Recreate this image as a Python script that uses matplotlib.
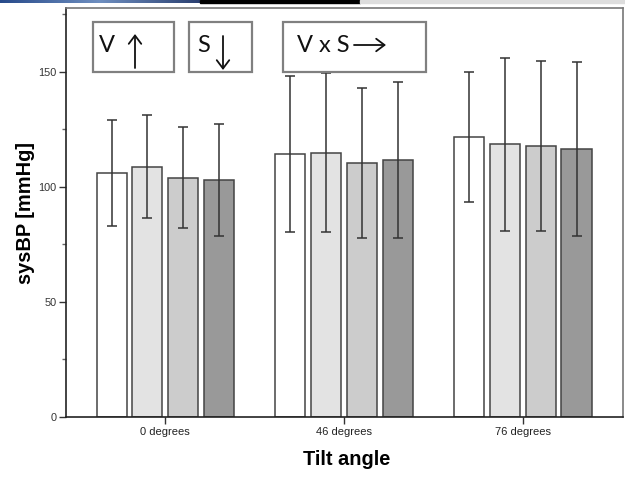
import numpy as np
import matplotlib
matplotlib.use("Agg")
import matplotlib.pyplot as plt
from matplotlib.patches import Rectangle, FancyArrowPatch
from matplotlib.ticker import FixedLocator

plt.rcParams["font.family"] = ["Liberation Sans", "DejaVu Sans"]

tilt_labels = ["0 degrees", "46 degrees", "76 degrees"]

# mean sysBP per condition, four conditions per tilt angle
means = [
    [106.1, 108.8, 103.9, 103.0],
    [114.3, 114.8, 110.4, 111.6],
    [121.7, 118.4, 117.7, 116.5],
]
errors = [
    [22.9, 22.4, 21.9, 24.3],
    [33.9, 34.5, 32.6, 33.8],
    [28.1, 37.4, 36.8, 37.8],
]

fills = ["#ffffff", "#e3e3e3", "#cccccc", "#999999"]

W, H = 625, 483


def fx(px):
    return px / W


def fy(py):
    return 1 - py / H


fig = plt.figure(figsize=(6.25, 4.83), dpi=100)
ax = fig.add_axes([fx(66), fy(417), fx(623) - fx(66), fy(8) - fy(417)])

x = np.arange(len(tilt_labels))
step, width = 0.2, 0.168
m = np.array(means)
e = np.array(errors)
for j in range(m.shape[1]):
    pos = x + (j - 1.5) * step
    ax.bar(pos, m[:, j], width=width, color=fills[j], edgecolor="#444444",
           linewidth=1.1, zorder=2)
    ax.errorbar(pos, m[:, j], yerr=e[:, j], fmt="none", ecolor="#333333",
                elinewidth=1.1, capsize=3.5, capthick=1.1, zorder=3)

ax.set_xlim(-0.555, 2.56)
ax.set_ylim(0, 177.7)
ax.set_xticks(x)
ax.set_xticklabels(tilt_labels, fontsize=8, color="#222222")
ax.set_yticks([0, 50, 100, 150])
ax.set_yticklabels(["0", "50", "100", "150"], fontsize=7.8, color="#333333")
ax.yaxis.set_minor_locator(FixedLocator([25, 75, 125, 175]))
ax.tick_params(axis="both", which="major", direction="out", length=5,
               width=1, color="#333333", pad=2)
ax.tick_params(axis="y", which="minor", direction="out", length=3,
               width=1, color="#666666")

for side in ["left", "bottom"]:
    ax.spines[side].set_color("#222222")
    ax.spines[side].set_linewidth(1.2)
for side in ["top", "right"]:
    ax.spines[side].set_color("#777777")
    ax.spines[side].set_linewidth(1.2)

ax.set_ylabel("sysBP [mmHg]", fontsize=14.4, fontweight="bold", va="center")
ax.yaxis.set_label_coords(-0.0736, 0.5)
ax.set_xlabel("Tilt angle", fontsize=14.4, fontweight="bold", va="center")
ax.xaxis.set_label_coords(0.503, -0.105)

# effect boxes
boxes = [(93, 22, 174, 72), (189, 22, 252, 72), (283, 22, 426, 72)]
for x0, y0, x1, y1 in boxes:
    fig.add_artist(Rectangle((fx(x0), fy(y1)), fx(x1) - fx(x0), fy(y0) - fy(y1),
                             transform=fig.transFigure, facecolor="white",
                             edgecolor="#808080", linewidth=1.6, zorder=5))

box_font = dict(fontsize=17, family=["Lato", "DejaVu Sans"], color="#111111",
                va="center", ha="left", zorder=6)
fig.text(fx(99), fy(45), "V", **box_font)
fig.text(fx(197), fy(45), "S", **box_font)
fig.text(fx(297), fy(45), "V x S", **box_font)

arrows = [((135, 68), (135, 34)), ((223, 36), (223, 70)), ((354, 45), (386, 45))]
for (ax0, ay0), (ax1, ay1) in arrows:
    fig.add_artist(FancyArrowPatch((fx(ax0), fy(ay0)), (fx(ax1), fy(ay1)),
                                   transform=fig.transFigure,
                                   arrowstyle="->,head_length=6,head_width=4.5",
                                   color="#111111", linewidth=1.3, zorder=6,
                                   shrinkA=0, shrinkB=0, mutation_scale=1))

# banner strip along the top edge
grad = np.linspace(0, 1, 256).reshape(1, -1)
banner = fig.add_axes([0, fy(3), fx(200), fy(0) - fy(3)])
banner.imshow(grad, aspect="auto", cmap=matplotlib.colors.LinearSegmentedColormap.from_list(
    "band", ["#274a8a", "#6f8fc0", "#2a3f70"]))
banner.axis("off")
fig.add_artist(Rectangle((fx(200), fy(3)), fx(360) - fx(200), fy(0) - fy(3),
                         transform=fig.transFigure, color="#000000"))
fig.add_artist(Rectangle((fx(360), fy(3)), fx(625) - fx(360), fy(0) - fy(3),
                         transform=fig.transFigure, color="#dddddd"))

fig.savefig("out.png", dpi=100)
